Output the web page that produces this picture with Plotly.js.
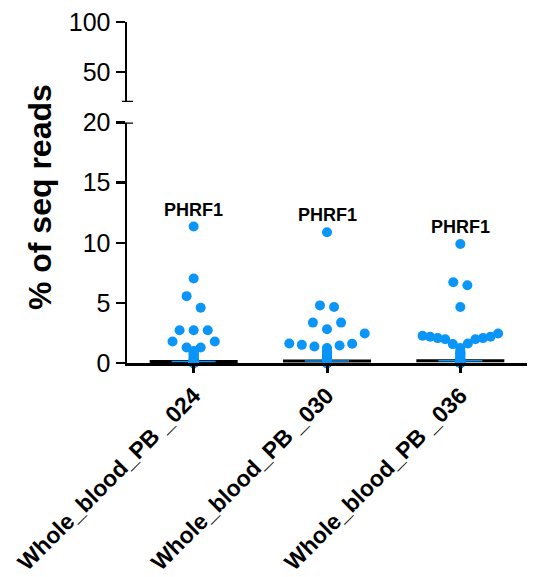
<!DOCTYPE html>
<html>
<head>
<meta charset="utf-8">
<script src="https://cdn.plot.ly/plotly-3.0.1.min.js"></script>
<style>html,body{margin:0;padding:0;background:#fff;}#chart{width:533px;height:577px;}</style>
</head>
<body>
<div id="chart"></div>
<script>
// ---- data ----
const categories = ["Whole_blood_PB _024", "Whole_blood_PB _030", "Whole_blood_PB _036"];
const geneLabel = "PHRF1";
const values024 = [11.35, 7.02, 5.56, 4.6, 2.73, 2.73, 2.73, 1.79, 1.79, 1.29, 1.29,
  1.0, 0.9, 0.8, 0.7, 0.6, 0.5, 0.4, 0.3, 0.25, 0.2, 0.18, 0.15, 0.12, 0.1, 0.09, 0.08, 0.07, 0.06,
  0.05, 0.05, 0.04, 0.04, 0.03, 0.03, 0.02, 0.02, 0.02, 0.01, 0.01, 0.01, 0, 0, 0, 0, 0];
const values030 = [10.88, 4.79, 4.65, 3.36, 3.36, 2.81, 2.45, 1.62, 1.6, 1.51, 1.45, 1.37, 1.25,
  1.0, 0.9, 0.8, 0.7, 0.6, 0.5, 0.4, 0.3, 0.25, 0.2, 0.18, 0.15, 0.12, 0.1, 0.09, 0.08, 0.07, 0.06,
  0.05, 0.05, 0.04, 0.04, 0.03, 0.03, 0.02, 0.02, 0.02, 0.01, 0.01, 0.01, 0, 0, 0, 0, 0];
const values036 = [9.89, 6.72, 6.47, 4.65, 2.45, 2.26, 2.18, 2.18, 2.07, 2.07, 1.98, 1.98, 1.62, 1.57, 1.25,
  1.0, 0.9, 0.8, 0.7, 0.6, 0.5, 0.4, 0.3, 0.25, 0.2, 0.18, 0.15, 0.12, 0.1, 0.09, 0.08, 0.07, 0.06,
  0.05, 0.05, 0.04, 0.04, 0.03, 0.03, 0.02, 0.02, 0.02, 0.01, 0.01, 0.01, 0, 0, 0, 0, 0];
const lowerTicks = [0, 5, 10, 15, 20];
const upperTicks = [50, 100];
const allValues = [values024, values030, values036];

// ---- column-scatter layout (GraphPad-like rows) ----
const DOT = '#0a95f7';
const binWidth = 1.5, binOffset = 1.1, slot = 0.1057, maxWidth = 0.566, stackLimit = 12;
function swarm(vals, center) {
  const bins = {};
  vals.forEach((v, i) => {
    const b = Math.floor((v - binOffset) / binWidth);
    (bins[b] = bins[b] || []).push(i);
  });
  const xs = new Array(vals.length).fill(center);
  Object.values(bins).forEach(idx => {
    const n = idx.length;
    if (n > stackLimit) return; // dense region: stacked in one column
    idx.sort((a, b) => vals[a] - vals[b]);
    const step = n > 1 ? Math.min(slot, maxWidth / (n - 1)) : slot;
    idx.forEach((id, k) => {
      let off;
      if (n % 2 === 1) {
        if (k === 0) off = 0;
        else { const m = Math.ceil(k / 2); off = (k % 2 === 1 ? -m : m); }
      } else {
        const m = Math.floor(k / 2) + 0.5; off = (k % 2 === 0 ? m : -m);
      }
      xs[id] = center + off * step;
    });
  });
  return xs;
}
function median(a) {
  const s = [...a].sort((p, q) => p - q), n = s.length;
  return n % 2 ? s[(n - 1) / 2] : (s[n / 2 - 1] + s[n / 2]) / 2;
}

const traces = [];
const annotations = [];
allValues.forEach((vals, i) => {
  const med = median(vals);
  traces.push({x: [i - 0.33, i + 0.33], y: [med, med], mode: 'lines', xaxis: 'x', yaxis: 'y',
    line: {color: '#000', width: 3}, hoverinfo: 'skip', showlegend: false, cliponaxis: false});
  traces.push({x: [i - 0.165, i + 0.165], y: [med, med], mode: 'lines', xaxis: 'x', yaxis: 'y',
    line: {color: DOT, width: 1.5}, hoverinfo: 'skip', showlegend: false, cliponaxis: false});
});
allValues.forEach((vals, i) => {
  traces.push({x: swarm(vals, i), y: vals, mode: 'markers', type: 'scatter', xaxis: 'x', yaxis: 'y',
    marker: {color: DOT, size: 10}, showlegend: false, cliponaxis: false});
  annotations.push({x: i, y: Math.max(...vals), xref: 'x', yref: 'y', text: '<b>' + geneLabel + '</b>',
    showarrow: false, yshift: 17, xanchor: 'center', yanchor: 'middle',
    font: {family: 'Liberation Sans, Arial, sans-serif', size: 18, color: '#000'}});
});
annotations.push({x: -0.2175, y: 0.47, xref: 'paper', yref: 'paper', text: '<b>% of seq reads</b>',
  textangle: -90, showarrow: false, xanchor: 'center', yanchor: 'middle',
  font: {family: 'Liberation Sans, Arial, sans-serif', size: 32, color: '#000'}});

const tickFont = {family: 'Liberation Sans, Arial, sans-serif', size: 25, color: '#000'};
const layout = {
  width: 533, height: 577,
  margin: {l: 127, r: 6, t: 10, b: 214},
  paper_bgcolor: '#fff', plot_bgcolor: '#fff',
  showlegend: false,
  xaxis: {
    range: [-0.5, 2.5], tickmode: 'array', tickvals: [0, 1, 2], ticktext: categories,
    tickangle: -45, showline: true, linecolor: '#000', linewidth: 3, ticks: 'outside',
    ticklen: 7, tickwidth: 3, tickcolor: '#000', showgrid: false, zeroline: false,
    tickfont: {family: 'Liberation Sans, Arial, sans-serif', size: 23, color: '#000', weight: 'bold'},
    anchor: 'y', fixedrange: true
  },
  yaxis: {
    domain: [0, 0.6813], range: [0, 20], tickmode: 'array', tickvals: lowerTicks,
    showline: true, linecolor: '#000', linewidth: 2.5, ticks: 'outside', ticklen: 9, tickwidth: 2.5,
    tickcolor: '#000', showgrid: false, zeroline: false, tickfont: tickFont, anchor: 'x', fixedrange: true
  },
  yaxis2: {
    domain: [0.7394, 0.966], range: [20, 100], tickmode: 'array', tickvals: upperTicks,
    showline: true, linecolor: '#000', linewidth: 2.5, ticks: 'outside', ticklen: 9, tickwidth: 2.5,
    tickcolor: '#000', showgrid: false, zeroline: false, tickfont: tickFont, anchor: 'x', fixedrange: true
  },
  shapes: [
    {type: 'line', xref: 'paper', yref: 'y2', x0: -0.0125, x1: 0.015, y0: 20, y1: 20, line: {color: '#000', width: 2.5}},
    {type: 'line', xref: 'paper', yref: 'y', x0: -0.0125, x1: 0.015, y0: 20, y1: 20, line: {color: '#000', width: 2.5}}
  ],
  annotations: annotations
};
Plotly.newPlot('chart', traces, layout, {displayModeBar: false, staticPlot: true});
</script>
</body>
</html>
